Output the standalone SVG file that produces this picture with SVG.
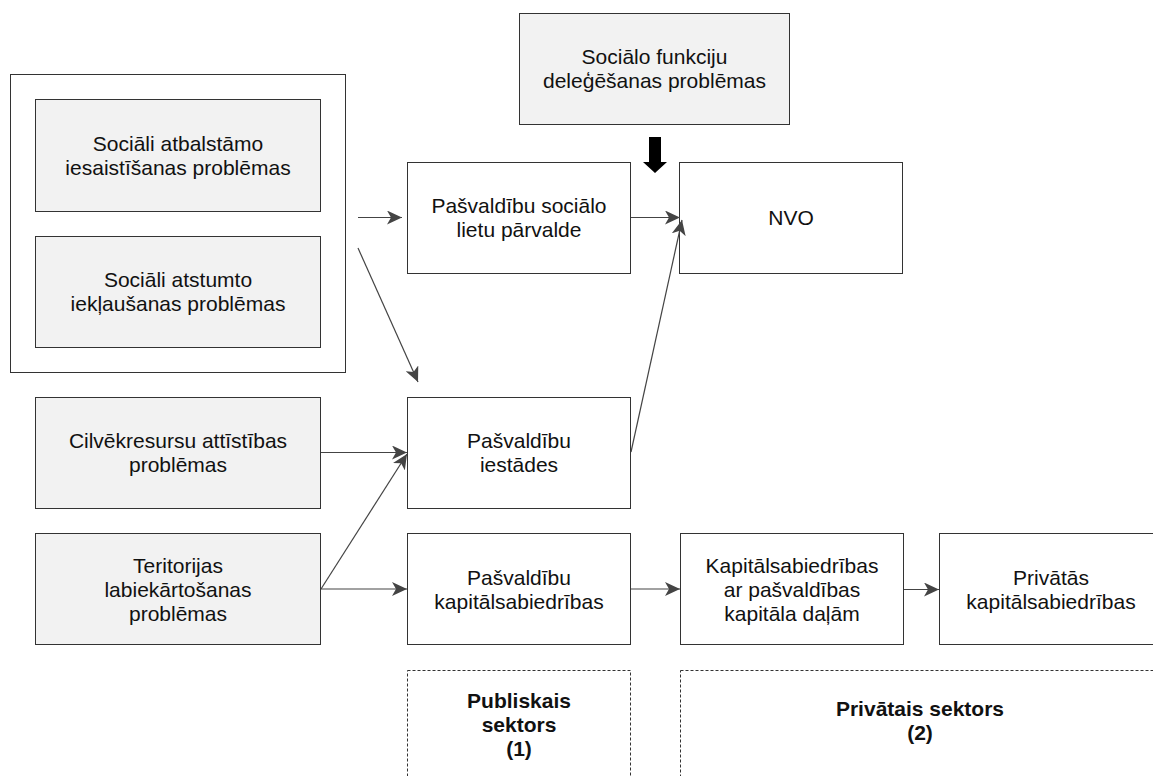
<svg xmlns="http://www.w3.org/2000/svg" width="1153" height="776" viewBox="0 0 1153 776">
<style>
.box{fill:#ffffff;stroke:#333333;stroke-width:1}
.gray{fill:#f2f2f2;stroke:#333333;stroke-width:1}
.dash{fill:none;stroke:#333333;stroke-width:1;stroke-dasharray:3 2}
.t{font-family:"Liberation Sans",Arial,sans-serif;font-size:21px;fill:#111111;text-anchor:middle}
.b{font-weight:bold}
.c{fill:none;stroke:#444444;stroke-width:1.2;marker-end:url(#arr)}
</style>
<defs>
<marker id="arr" markerUnits="userSpaceOnUse" markerWidth="16" markerHeight="14" refX="15" refY="7" orient="auto">
<path d="M0,0 L15,7 L0,14 L4,7 Z" fill="#444444"/>
</marker>
</defs>
<rect width="1153" height="776" fill="#ffffff"/>

<g id="grp-social">
<rect class="box" x="10.5" y="74.5" width="335" height="298"/>
</g>
<g id="n-atbalstamo">
<rect class="gray" x="35.5" y="99.5" width="285" height="112"/>
<text class="t" x="178" y="150.5">Sociāli atbalstāmo<tspan x="178" dy="24">iesaistīšanas problēmas</tspan></text>
</g>
<g id="n-atstumto">
<rect class="gray" x="35.5" y="236.5" width="285" height="111"/>
<text class="t" x="178" y="287">Sociāli atstumto<tspan x="178" dy="24">iekļaušanas problēmas</tspan></text>
</g>
<g id="n-cilvekresursu">
<rect class="gray" x="35.5" y="397.5" width="285" height="111"/>
<text class="t" x="178" y="448">Cilvēkresursu attīstības<tspan x="178" dy="24">problēmas</tspan></text>
</g>
<g id="n-teritorijas">
<rect class="gray" x="35.5" y="533.5" width="285" height="111"/>
<text class="t" x="178" y="572.5">Teritorijas<tspan x="178" dy="24">labiekārtošanas</tspan><tspan x="178" dy="24">problēmas</tspan></text>
</g>
<g id="n-delegesana">
<rect class="gray" x="519.5" y="13.5" width="270" height="111"/>
<text class="t" x="654.5" y="64">Sociālo funkciju<tspan x="654.5" dy="24">deleģēšanas problēmas</tspan></text>
</g>
<g id="n-parvalde">
<rect class="box" x="407.5" y="162.5" width="223" height="111"/>
<text class="t" x="519" y="213">Pašvaldību sociālo<tspan x="519" dy="24">lietu pārvalde</tspan></text>
</g>
<g id="n-nvo">
<rect class="box" x="679.5" y="162.5" width="223" height="111"/>
<text class="t" x="791" y="225">NVO</text>
</g>
<g id="n-iestades">
<rect class="box" x="407.5" y="397.5" width="223" height="111"/>
<text class="t" x="519" y="448">Pašvaldību<tspan x="519" dy="24">iestādes</tspan></text>
</g>
<g id="n-kapital">
<rect class="box" x="407.5" y="533.5" width="223" height="111"/>
<text class="t" x="519" y="584.5">Pašvaldību<tspan x="519" dy="24">kapitālsabiedrības</tspan></text>
</g>
<g id="n-ka">
<rect class="box" x="680.5" y="533.5" width="223" height="111"/>
<text class="t" x="792" y="572.5">Kapitālsabiedrības<tspan x="792" dy="24">ar pašvaldības</tspan><tspan x="792" dy="24">kapitāla daļām</tspan></text>
</g>
<g id="n-privatas">
<rect class="box" x="939.5" y="533.5" width="222" height="111"/>
<text class="t" x="1051" y="584.5">Privātās<tspan x="1051" dy="24">kapitālsabiedrības</tspan></text>
</g>
<g id="n-publiskais">
<rect class="dash" x="407.5" y="670.5" width="223" height="130"/>
<text class="t b" x="519" y="708">Publiskais<tspan x="519" dy="24">sektors</tspan><tspan x="519" dy="24">(1)</tspan></text>
</g>
<g id="n-privatais">
<rect class="dash" x="680.5" y="670.5" width="481" height="130"/>
<text class="t b" x="920" y="716">Privātais sektors<tspan x="920" dy="24">(2)</tspan></text>
</g>

<g id="connectors">
<line class="c" x1="358" y1="217.5" x2="402" y2="217.5"/>
<line class="c" x1="358" y1="248" x2="418" y2="382"/>
<line class="c" x1="631" y1="217.5" x2="680" y2="217.5"/>
<line class="c" x1="631" y1="452" x2="682" y2="220"/>
<line class="c" x1="321" y1="452.5" x2="407" y2="452.5"/>
<line class="c" x1="321" y1="589" x2="407" y2="454"/>
<line class="c" x1="321" y1="589" x2="407" y2="589"/>
<line class="c" x1="631" y1="589" x2="680" y2="589"/>
<line class="c" x1="904" y1="589.5" x2="939" y2="589.5"/>
<path d="M649,137 H661 V162 H667 L655,173 L643,162 H649 Z" fill="#000000"/>
</g>
</svg>
